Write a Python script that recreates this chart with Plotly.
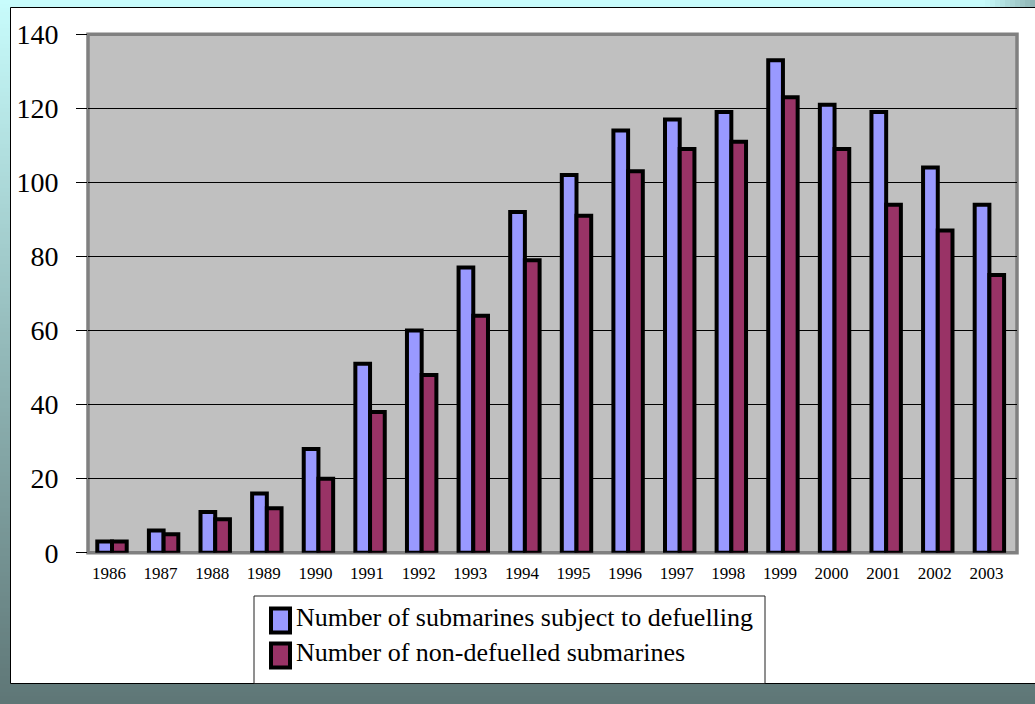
import plotly.graph_objects as go

# Year categories and the two bar series
years = ["1986", "1987", "1988", "1989", "1990", "1991", "1992", "1993", "1994",
         "1995", "1996", "1997", "1998", "1999", "2000", "2001", "2002", "2003"]
subject_to_defuelling = [3, 6, 11, 16, 28, 51, 60, 77, 92, 102, 114, 117, 119, 133, 121, 119, 104, 94]
non_defuelled = [3, 5, 9, 12, 20, 38, 48, 64, 79, 91, 103, 109, 111, 123, 109, 94, 87, 75]
y_ticks = [0, 20, 40, 60, 80, 100, 120, 140]
series_names = ["Number of submarines subject to defuelling", "Number of non-defuelled submarines"]

W, H = 1035, 704
SERIF = "Liberation Serif, 'Times New Roman', serif"
BLUE = "#9999FF"
PLUM = "#993366"
OUTLINE = 4


def px(x):
    return x / W


def py(y):
    return 1 - y / H


def mix(c1, c2, t):
    return "rgb({},{},{})".format(*[round(a + (b - a) * t) for a, b in zip(c1, c2)])


TOP_COL = (200, 252, 252)
BOT_COL = (94, 118, 118)

shapes = []

# slide background: vertical cyan-to-slate gradient built from thin bands
step = 4
for k in range(0, H, step):
    shapes.append(dict(type="rect", xref="paper", yref="paper", layer="below",
                       x0=0, x1=1, y0=py(k + step), y1=py(k),
                       fillcolor=mix(TOP_COL, BOT_COL, (k + step / 2) / H),
                       line=dict(width=0)))

# darker fade toward the top-right corner
for x in range(985, W, 5):
    f = (x + 2.5 - 985) / 50 * 0.55
    base = [a + (b - a) * (4 / H) for a, b in zip(TOP_COL, BOT_COL)]
    shapes.append(dict(type="rect", xref="paper", yref="paper", layer="below",
                       x0=px(x), x1=px(x + 5), y0=py(8), y1=py(0),
                       fillcolor=mix(base, BOT_COL, f), line=dict(width=0)))

# white chart area
shapes.append(dict(type="rect", xref="paper", yref="paper", layer="below",
                   x0=px(10.5), x1=1.02, y0=py(683.5), y1=py(7.5),
                   fillcolor="white", line=dict(color="#000000", width=1)))

# plot area
PX0, PX1, PY_TOP, PY_BOT = 88, 1017, 34.3, 552.7
shapes.append(dict(type="rect", xref="paper", yref="paper", layer="below",
                   x0=px(PX0), x1=px(PX1), y0=py(PY_BOT), y1=py(PY_TOP),
                   fillcolor="#C0C0C0", line=dict(color="#808080", width=3.5)))

# legend box
shapes.append(dict(type="rect", xref="paper", yref="paper", layer="below",
                   x0=px(254), x1=px(765), y0=py(683.5), y1=py(596),
                   fillcolor="white", line=dict(color="#202020", width=1)))

annotations = []
legend_rows = [(620.5, BLUE), (655.5, PLUM)]
for (yc, col), name in zip(legend_rows, series_names):
    shapes.append(dict(type="rect", xref="paper", yref="paper", layer="above",
                       x0=px(271), x1=px(290), y0=py(yc + 12), y1=py(yc - 12),
                       fillcolor=col, line=dict(color="#000000", width=OUTLINE)))
    annotations.append(dict(xref="paper", yref="paper", x=px(294), y=py(yc - 3),
                            xanchor="left", yanchor="middle", showarrow=False,
                            text=name, font=dict(family=SERIF, size=26, color="#000000")))

fig = go.Figure()
fig.add_trace(go.Bar(x=years, y=subject_to_defuelling, name=series_names[0],
                     marker=dict(color=BLUE, line=dict(color="#000000", width=OUTLINE))))
fig.add_trace(go.Bar(x=years, y=non_defuelled, name=series_names[1],
                     marker=dict(color=PLUM, line=dict(color="#000000", width=OUTLINE))))

fig.update_layout(
    width=W, height=H,
    margin=dict(l=0, r=0, t=0, b=0, pad=0, autoexpand=False),
    paper_bgcolor="rgb(94,118,118)",
    plot_bgcolor="rgba(0,0,0,0)",
    barmode="group", bargap=0.43, bargroupgap=0,
    showlegend=False,
    shapes=shapes,
    annotations=annotations,
    xaxis=dict(domain=[px(PX0), px(PX1)], range=[-0.465, 17.535], automargin=False,
               showgrid=False, zeroline=False, showline=False, ticks="",
               tickfont=dict(family=SERIF, size=17, color="#000000"),
               ticklabelstandoff=8, ticklabelshift=-3),
    yaxis=dict(domain=[py(PY_BOT), py(PY_TOP)], range=[0, 140], automargin=False,
               tickvals=y_ticks, ticktext=[str(v) for v in y_ticks],
               showgrid=True, gridcolor="#000000", gridwidth=1,
               zeroline=False, showline=False,
               ticks="outside", ticklen=11, tickwidth=1, tickcolor="#000000",
               tickfont=dict(family=SERIF, size=28, color="#000000"),
               ticklabelstandoff=12),
)

fig.write_html("out.html")
